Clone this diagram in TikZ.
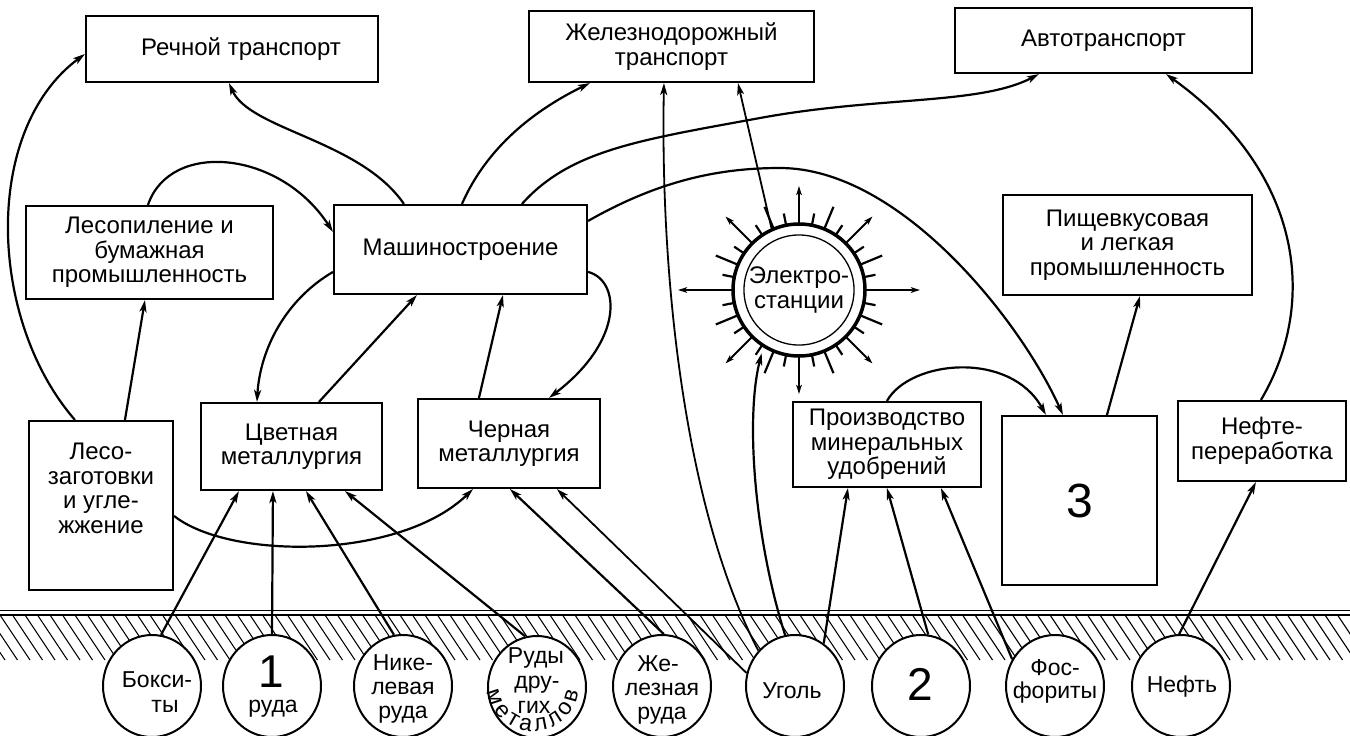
\documentclass[tikz,border=0pt]{standalone}
\usepackage{fontspec}
\setmainfont{Liberation Sans}
\usetikzlibrary{arrows.meta,shapes.geometric,calc,decorations.text}
\newcommand\fnt{\fontsize{24}{24.5}\selectfont}
\newcommand\fntr{\fontsize{23}{23}\selectfont}
\newcommand\fntbig{\fontsize{46}{46}\selectfont}
\tikzset{
 box/.style={draw, line width=2.1pt, rectangle, inner sep=0pt, align=center, font=\fnt, fill=white},
 res/.style={draw, ellipse, line width=2pt, fill=white, minimum width=98pt, minimum height=102pt, inner sep=0pt},
 rt/.style={anchor=base, font=\fntr, inner sep=0pt},
 conn/.style={line width=2.2pt, -{Stealth[length=12pt,width=7pt,inset=3pt]}},
 thinconn/.style={line width=1.8pt, -{Stealth[length=12pt,width=7pt,inset=3pt]}},
 ray/.style={line width=2.2pt},
 rayarrow/.style={line width=2pt, -{Stealth[length=9pt,width=5.5pt,inset=2pt]}},
}
\begin{document}
\begin{tikzpicture}[x=1pt,y=-1pt]
\useasboundingbox (0,0) rectangle (1350,736);
\fill[white] (0,0) rectangle (1350,736);

% ground
\begin{scope}
\clip (0,615) rectangle (1350,660);
\foreach \x in {-50,-37.5,...,1350} \draw[line width=1.1pt] (\x,615) -- ++(30,45);
\end{scope}
\draw[line width=1.3pt] (0,610.5) -- (1350,610.5);
\draw[line width=1.3pt] (0,615) -- (1350,615);

% resources
\node[res] (boks) at (152,686) {};
\node[res] (ruda) at (272,686) {};
\node[res] (nikel) at (403,686) {};
\node[res] (rudy) at (537,687) {};
\node[res] (zhelr) at (662,686) {};
\node[res] (ugol) at (795,686) {};
\node[res] (two) at (921,686) {};
\node[res] (fos) at (1055,686) {};
\node[res] (nefty) at (1181,686) {};

\node[rt] (tboks1) at (157,687) {Бокси-};
\node[rt] (tboks2) at (165,712) {ты};
\node[rt, font=\fntbig] (truda1) at (271,687) {1};
\node[rt] (truda2) at (273,712) {руда};
\node[rt] (tnikel1) at (403,670) {Нике-};
\node[rt] (tnikel2) at (403,694) {левая};
\node[rt] (tnikel3) at (403,718) {руда};
\node[rt] (trudy1) at (536,663) {Руды};
\node[rt] (trudy2) at (537,688) {дру-};
\node[rt] (trudy3) at (534,713) {гих};
\path[decorate, decoration={text along path, text align=fit to path, text={|\fontsize{23}{23}\selectfont|металлов}}]
  ($(533,685)+(-45.5,6.4)$) arc[start angle=188, end angle=352, radius=46pt];
\node[rt] (tzhelr1) at (658,671) {Же-};
\node[rt] (tzhelr2) at (662,695) {лезная};
\node[rt] (tzhelr3) at (662,719) {руда};
\node[rt] (tugol) at (792,698) {Уголь};
\node[rt, font=\fntbig] (ttwo) at (920,700) {2};
\node[rt] (tfos1) at (1055,675) {Фос-};
\node[rt] (tfos2) at (1055,698) {фориты};
\node[rt] (tnefty) at (1182,692) {Нефть};

% boxes
\node[box, minimum width=292pt, minimum height=66pt] (rech) at (232,49) {\hspace*{18pt}Речной транспорт};
\node[box, minimum width=285pt, minimum height=71pt] (zhel) at (671.5,46.5) {Железнодорожный\\транспорт};
\node[box, minimum width=297pt, minimum height=65pt] (avto) at (1103.5,40.5) {Автотранспорт};
\node[box, minimum width=247pt, minimum height=93pt] (lesop) at (149.5,252.5) {Лесопиление и\\бумажная\\промышленность};
\node[box, minimum width=253pt, minimum height=89pt] (mash) at (460.5,249.5) {Машиностроение};
\node[box, minimum width=249pt, minimum height=100pt] (pish) at (1127.5,245) {Пищевкусовая\\и легкая\\промышленность};
\node[box, minimum width=181pt, minimum height=87pt] (cvet) at (291.5,446.5) {Цветная\\металлургия};
\node[box, minimum width=182pt, minimum height=89pt] (cher) at (509,443.5) {Черная\\металлургия};
\node[box, minimum width=144pt, minimum height=169pt] (lesoz) at (101,505.5) {Лесо-\\заготовки\\и угле-\\жжение\\[10pt]};
\node[box, minimum width=188pt, minimum height=85pt] (proizv) at (887,444.5) {Производство\\минеральных\\удобрений};
\node[box, minimum width=155pt, minimum height=169pt, font=\fontsize{48}{48}\selectfont] (three) at (1079.5,500.5) {3};
\node[box, minimum width=168pt, minimum height=80pt] (neft) at (1262,441) {Нефте-\\переработка};

% power stations
\node[circle, draw, line width=3.5pt, minimum size=132pt, inner sep=0pt, fill=white] (sun) at (799,290) {};
\node[circle, draw, line width=1.3pt, minimum size=110pt, inner sep=0pt, align=center, font=\fnt] (sunin) at (sun.center) {Электро-\\станции};
\foreach \a in {11.25,33.75,56.25,78.75,101.25,123.75,146.25,168.75,191.25,213.75,236.25,258.75,281.25,303.75,326.25,348.75}
  \draw[ray] ($(sun.center)+(\a:67)$) -- ($(sun.center)+(\a:78)$);
\foreach \a in {22.5,67.5,112.5,157.5,202.5,247.5,292.5,337.5}
  \draw[ray] ($(sun.center)+(\a:67)$) -- ($(sun.center)+(\a:90)$);
\foreach \a in {0,180}
  \draw[rayarrow] ($(sun.center)+(\a:67)$) -- ($(sun.center)+(\a:121)$);
\foreach \a in {45,90,135,225,270,315}
  \draw[rayarrow] ($(sun.center)+(\a:67)$) -- ($(sun.center)+(\a:104)$);

% connectors
\draw[conn] ([xshift=97pt]lesoz.north west) -- ([xshift=120pt]lesop.south west);
\draw[conn] ([xshift=47pt]lesoz.north west) .. controls (-12,320) and (-18,130) .. ([yshift=-39pt]rech.north west);
\draw[conn] ([xshift=71pt]mash.north west) .. controls (360,140) and (250,130) .. ([xshift=144pt]rech.south west);
\draw[conn] ([xshift=123pt]lesop.north west) .. controls (170,140) and (280,150) .. ([yshift=-28pt]mash.north west);
\draw[conn] ([yshift=-68pt]mash.north west) .. controls (285,300) and (260,350) .. ([xshift=57pt]cvet.north west);
\draw[conn] ([xshift=119pt]cvet.north west) -- ([xshift=84pt]mash.south west);
\draw[conn] ([xshift=62pt]cher.north west) -- ([xshift=170pt]mash.south west);
\draw[conn] ([yshift=-68pt]mash.north east) .. controls (620,280) and (625,340) .. ([xshift=132pt]cher.north west);
\draw[conn] ([yshift=-96pt]lesoz.north east) .. controls (230,560) and (400,560) .. ([xshift=56pt]cher.south west);
\draw[conn] ([xshift=129pt]mash.north west) .. controls (490,140) and (545,105) .. ([xshift=62pt]zhel.south west);
\draw[conn] ([xshift=189pt]mash.north west) .. controls (570,150) and (640,140) .. (760,118) .. controls (880,96) and (980,105) .. ([xshift=85pt]avto.south west);
\draw[conn] ([yshift=-17pt]mash.north east) .. controls (660,180) and (720,168) .. (780,168) .. controls (900,168) and (1020,320) .. ([xshift=62pt]three.north west);
\draw[conn] ([xshift=95pt]proizv.north west) .. controls (910,360) and (1010,350) .. ([xshift=45pt]three.north west);
\draw[conn] ([xshift=106pt]three.north west) -- ([xshift=138pt]pish.south west);
\draw[conn] ([xshift=84pt]neft.north west) .. controls (1320,300) and (1300,170) .. ([xshift=212pt]avto.south west);
\draw[conn] (nefty.92) -- ([xshift=79pt]neft.south west);
\draw[conn] (boks.80) -- ([xshift=39pt]cvet.south west);
\draw[conn] (ruda.90) -- ([xshift=73pt]cvet.south west);
\draw[conn] (nikel.100) -- ([xshift=106pt]cvet.south west);
\draw[conn] (rudy.103) -- ([xshift=145pt]cvet.south west);
\draw[conn] (zhelr.88) -- ([xshift=93pt]cher.south west);
\draw[thinconn] (ugol.165) -- ([xshift=140pt]cher.south west);
\draw[thinconn] (ugol.136) .. controls (690,520) and (660,300) .. ([xshift=136pt]zhel.south west);
\draw[conn, shorten >=6pt] (ugol.101) .. controls (755,540) and (745,420) .. (sun.238);
\draw[conn] (ugol.56) -- ([xshift=56pt]proizv.south west);
\draw[conn] (two.82) -- ([xshift=95pt]proizv.south west);
\draw[conn] (fos.148) -- ([xshift=149pt]proizv.south west);
\draw[thinconn] (sun.114) -- ([xshift=210pt]zhel.south west);
\end{tikzpicture}
\end{document}
